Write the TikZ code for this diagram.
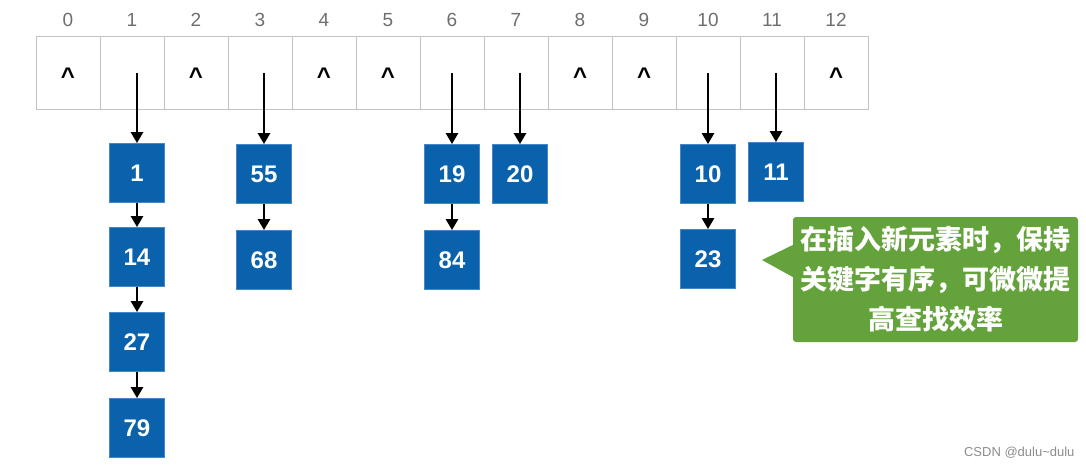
\documentclass[tikz,border=0pt]{standalone}
\usepackage{fontspec}
\setmainfont{Liberation Sans}
\newfontfamily\cjk{Noto Sans CJK SC}
\usetikzlibrary{arrows.meta}
\definecolor{boxblue}{RGB}{10,98,172}
\definecolor{boxedge}{RGB}{70,135,200}
\definecolor{callgreen}{RGB}{100,162,60}
\definecolor{cellgray}{RGB}{195,195,195}
\definecolor{idxgray}{RGB}{110,110,110}
\definecolor{wmgray}{RGB}{140,140,140}
\begin{document}
\begin{tikzpicture}[x=1pt,y=-1pt,
 cell/.style={draw=cellgray, line width=1pt, minimum width=64pt, minimum height=73pt, inner sep=0pt},
 idx/.style={text=idxgray, font=\fontsize{19}{19}\selectfont},
 nil/.style={font=\fontsize{24}{24}\selectfont\bfseries, anchor=base},
 key/.style={fill=boxblue, draw=boxedge, line width=0.8pt, minimum width=55pt, minimum height=59pt, inner sep=0pt, text=white, font=\fontsize{24}{24}\selectfont\bfseries},
 link/.style={-{Triangle[length=11pt,width=12pt]}, line width=2.6pt, black},
]
\useasboundingbox (0,0) rectangle (1086,468);
\foreach \i in {0,...,12} {
  \node[cell] (c\i) at ({68+64*\i},73.5) {};
  \node[idx] (n\i) at ({68+64*\i},20) {\i};
}
\foreach \i in {0,2,4,5,8,9,12} {
  \node[nil] (h\i) at ({68+64*\i},84.5) {\textasciicircum};
}
\node[key] (k1) at (137,173) {1};
\node[key] (k14) at (137,257) {14};
\node[key] (k27) at (137,342) {27};
\node[key] (k79) at (137,428) {79};
\node[key] (k55) at (264,174) {55};
\node[key] (k68) at (264,260) {68};
\node[key] (k19) at (452,174) {19};
\node[key] (k84) at (452,260) {84};
\node[key] (k20) at (520,174) {20};
\node[key] (k10) at (708,174) {10};
\node[key] (k23) at (708,259) {23};
\node[key] (k11) at (776,172) {11};

\draw[link] (k1 |- c1.center) -- (k1.north);
\draw[link] (k55 |- c3.center) -- (k55.north);
\draw[link] (k19 |- c6.center) -- (k19.north);
\draw[link] (k20 |- c7.center) -- (k20.north);
\draw[link] (k10 |- c10.center) -- (k10.north);
\draw[link] (k11 |- c11.center) -- (k11.north);
\draw[link] (k1) -- (k14);
\draw[link] (k14) -- (k27);
\draw[link] (k27) -- (k79);
\draw[link] (k55) -- (k68);
\draw[link] (k19) -- (k84);
\draw[link] (k10) -- (k23);

\node[fill=callgreen, rounded corners=3pt, minimum width=285pt, minimum height=125pt, inner sep=4pt, text=white, align=center, font=\cjk\bfseries\fontsize{27}{40}\selectfont] (note) at (935.5,279.5) {在插入新元素时，保持\\关键字有序，可微微提\\高查找效率};
\coordinate (tip) at (762,260);
\fill[callgreen] (note.west |- 0,245) -- (tip) -- (note.west |- 0,277) -- cycle;

\node[text=wmgray, font=\fontsize{13}{13}\selectfont, anchor=east] (wm) at (1078,453) {CSDN @dulu\textasciitilde dulu};
\end{tikzpicture}
\end{document}
